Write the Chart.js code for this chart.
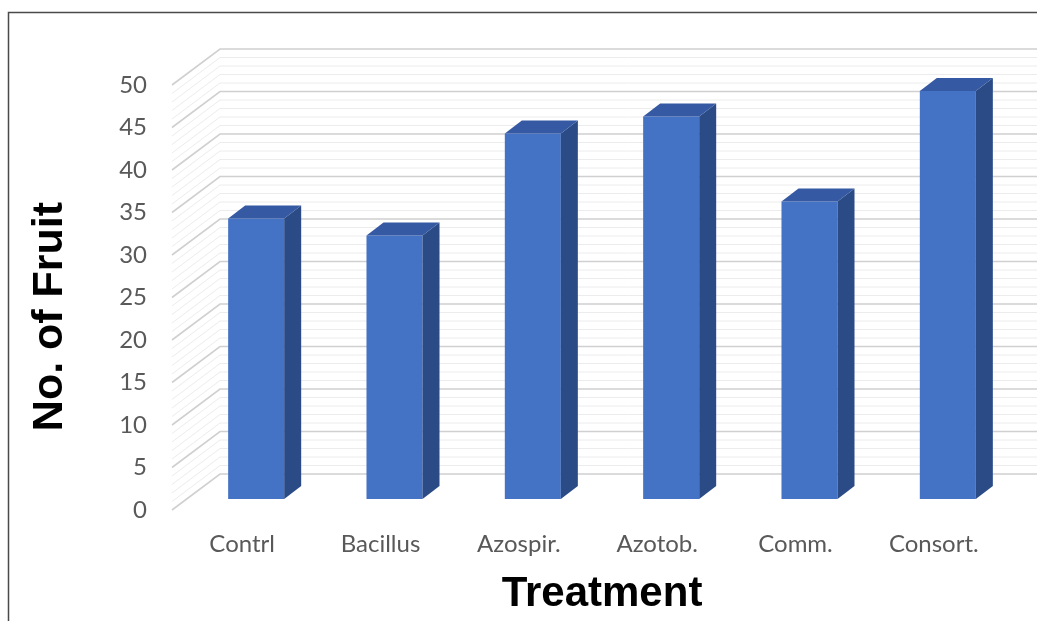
<!DOCTYPE html>
<html>
<head>
<meta charset="utf-8">
<script src="https://cdn.jsdelivr.net/npm/chart.js@4.4.1/dist/chart.umd.min.js"></script>
<style>
  html, body { margin: 0; padding: 0; background: #fff; }
  #wrap { width: 1037px; height: 621px; }
</style>
</head>
<body>
<div id="wrap"><canvas id="chart" width="1037" height="621"></canvas></div>
<script>
// Data
const treatments = ["Contrl", "Bacillus", "Azospir.", "Azotob.", "Comm.", "Consort."];
const fruitCounts = [33, 31, 43, 45, 35, 48];
const yTickValues = [0, 5, 10, 15, 20, 25, 30, 35, 40, 45, 50];

// Colours
const frontColor = "#4472C4";
const sideColor = "#2B4B86";
const topColor = "#3659A3";

// 3D look: bar depth and wall offsets (px)
const barDepthX = 17, barDepthY = 13;
const wallFrontX = -15, wallFrontY = 11;
const wallBackX = 33, wallBackY = -25;

// Box round the chart
const framePlugin = {
    id: "frame",
    beforeDraw(chart) {
        let ctx = chart.ctx;
        ctx.save();
        ctx.fillStyle = "#fff";
        ctx.fillRect(0, 0, chart.width, chart.height);
        ctx.strokeStyle = "#4a4a4a";
        ctx.lineWidth = 1.5;
        ctx.strokeRect(8.5, 12.5, chart.width + 20, chart.height + 20);
        ctx.restore();
    }
};

// Back wall and side wall grid lines, then the bar sides and tops
const wallPlugin = {
    id: "wall3d",
    beforeDatasetsDraw(chart) {
        let ctx = chart.ctx;
        let yScale = chart.scales.y;
        let left = chart.chartArea.left;
        ctx.save();
        for (let v = yScale.min; v <= yScale.max; v++) {
            let p = yScale.getPixelForValue(v);
            let major = v % 5 === 0;
            ctx.strokeStyle = major ? "#d0d0d0" : "#ececec";
            ctx.lineWidth = major ? 1.6 : 1;
            ctx.beginPath();
            ctx.moveTo(left + wallFrontX, p + wallFrontY);
            ctx.lineTo(left + wallBackX, p + wallBackY);
            ctx.lineTo(chart.width, p + wallBackY);
            ctx.stroke();
        }
        ctx.restore();
    },
    afterDatasetsDraw(chart) {
        let ctx = chart.ctx;
        ctx.save();
        chart.getDatasetMeta(0).data.forEach(function (bar) {
            let p = bar.getProps(["x", "y", "base", "width"], true);
            let l = p.x - p.width / 2;
            let r = p.x + p.width / 2;

            // side
            ctx.fillStyle = sideColor;
            ctx.beginPath();
            ctx.moveTo(r, p.y);
            ctx.lineTo(r + barDepthX, p.y - barDepthY);
            ctx.lineTo(r + barDepthX, p.base - barDepthY);
            ctx.lineTo(r, p.base);
            ctx.closePath();
            ctx.fill();

            // top
            ctx.fillStyle = topColor;
            ctx.beginPath();
            ctx.moveTo(l, p.y);
            ctx.lineTo(l + barDepthX, p.y - barDepthY);
            ctx.lineTo(r + barDepthX, p.y - barDepthY);
            ctx.lineTo(r, p.y);
            ctx.closePath();
            ctx.fill();
        });
        ctx.restore();
    }
};

// Rotated y axis title
const yTitlePlugin = {
    id: "yTitle",
    afterDraw(chart) {
        let ctx = chart.ctx;
        let area = chart.chartArea;
        ctx.save();
        ctx.translate(50, (area.top + area.bottom) / 2 + 30);
        ctx.rotate(-Math.PI / 2);
        ctx.font = "bold 43px 'Liberation Sans', Arial, sans-serif";
        ctx.fillStyle = "#000";
        ctx.textAlign = "center";
        ctx.textBaseline = "middle";
        ctx.fillText("No. of Fruit", 0, 0);
        ctx.restore();
    }
};

const tickFont = { family: "Lato, 'Open Sans', sans-serif", size: 24 };

new Chart(document.getElementById("chart").getContext("2d"), {
    type: "bar",
    data: {
        labels: treatments,
        datasets: [{
            label: "No. of Fruit",
            data: fruitCounts,
            backgroundColor: frontColor,
            borderWidth: 0,
            barPercentage: 0.405,
            categoryPercentage: 1
        }]
    },
    options: {
        responsive: false,
        animation: false,
        layout: {
            padding: { left: 0, top: 74, right: 20, bottom: 0 }
        },
        plugins: {
            legend: { display: false },
            tooltip: { enabled: false }
        },
        scales: {
            x: {
                grid: { display: false, drawTicks: false },
                border: { display: false },
                ticks: {
                    font: tickFont,
                    color: "#595959",
                    padding: 31,
                    labelOffset: -14,
                    maxRotation: 0
                },
                title: {
                    display: true,
                    text: "Treatment",
                    color: "#000",
                    font: { family: "'Liberation Sans', Arial, sans-serif", size: 42, weight: "bold", lineHeight: 1 },
                    padding: { top: 0, bottom: 6 }
                },
                afterFit(scale) {
                    scale.height = 122;
                }
            },
            y: {
                min: 0,
                max: 50,
                grid: { display: false, drawTicks: false },
                border: { display: false },
                ticks: {
                    font: tickFont,
                    color: "#595959",
                    padding: 40,
                    labelOffset: 11
                },
                afterBuildTicks(scale) {
                    scale.ticks = yTickValues.map(v => ({ value: v }));
                },
                afterFit(scale) {
                    scale.width = 187;
                }
            }
        }
    },
    plugins: [framePlugin, wallPlugin, yTitlePlugin]
});
</script>
</body>
</html>
